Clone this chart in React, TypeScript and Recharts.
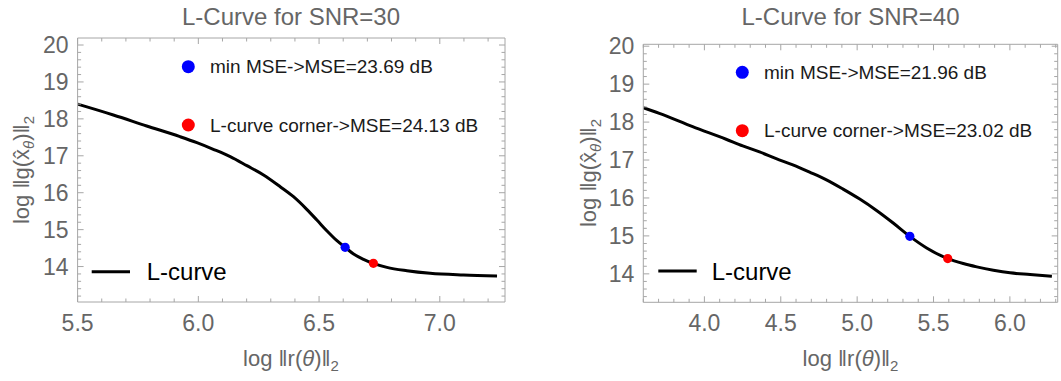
import React from "react";
import { ComposedChart, Line, Scatter, XAxis, YAxis } from "recharts";

// ---------- data ----------
const snr30X = [5.5, 5.648, 5.786, 5.924, 5.994, 6.062, 6.132, 6.201, 6.27, 6.339, 6.394, 6.449, 6.491, 6.532, 6.574, 6.608, 6.643, 6.684, 6.725, 6.781, 6.864, 6.96, 7.098, 7.237];
const snr30Y = [18.4, 18.106, 17.808, 17.518, 17.355, 17.176, 16.976, 16.732, 16.48, 16.163, 15.892, 15.55, 15.26, 14.97, 14.699, 14.52, 14.339, 14.195, 14.087, 13.978, 13.886, 13.816, 13.77, 13.743];
const snr30MinMse = { x: 6.608, y: 14.52 };
const snr30Corner = { x: 6.725, y: 14.087 };

const snr40X = [3.6, 3.705, 3.923, 4.142, 4.251, 4.361, 4.47, 4.579, 4.689, 4.799, 4.908, 5.017, 5.127, 5.236, 5.345, 5.455, 5.593, 5.695, 5.783, 5.892, 6.001, 6.132, 6.275];
const snr40Y = [18.38, 18.231, 17.879, 17.548, 17.372, 17.214, 17.038, 16.872, 16.681, 16.478, 16.234, 15.971, 15.671, 15.34, 14.988, 14.683, 14.402, 14.271, 14.184, 14.095, 14.026, 13.982, 13.937];
const snr40MinMse = { x: 5.345, y: 14.988 };
const snr40Corner = { x: 5.593, y: 14.402 };

const xMajor30 = [5.5, 6.0, 6.5, 7.0];
const xMajor40 = [4.0, 4.5, 5.0, 5.5, 6.0];
const yMajor = [14, 15, 16, 17, 18, 19, 20];

const titles = ["L-Curve for SNR=30", "L-Curve for SNR=40"];
const legendMin = ["min MSE->MSE=23.69 dB", "min MSE->MSE=21.96 dB"];
const legendCorner = ["L-curve corner->MSE=24.13 dB", "L-curve corner->MSE=23.02 dB"];
const legendCurve = "L-curve";

// ---------- helpers ----------
const FONT = "'Liberation Sans', Arial, sans-serif";
const FRAME = "#a6a6a6";
const TICKTXT = "#666666";

function makeTicks(lo: number, hi: number, step: number) {
  const out: number[] = [];
  const n = Math.round((hi - lo) / step);
  for (let i = 0; i <= n; i++) out.push(+(lo + i * step).toFixed(4));
  return out;
}
const isMajor = (v: number, majors: number[]) => majors.some((m) => Math.abs(m - v) < 1e-6);
const fmtX = (v: number) => v.toFixed(1);

function tickFactory(side: "bottom" | "top" | "left" | "right", majors: number[], label: boolean, fmt: (v: number) => string) {
  return (props: any) => {
    const { x, y, payload } = props;
    const v = payload.value;
    const major = isMajor(v, majors);
    const len = major ? 6 : 3.5;
    let line;
    if (side === "bottom") line = <line x1={x} x2={x} y1={y} y2={y - len} stroke={FRAME} strokeWidth={1} />;
    else if (side === "top") line = <line x1={x} x2={x} y1={y} y2={y + len} stroke={FRAME} strokeWidth={1} />;
    else if (side === "left") line = <line x1={x} x2={x + len} y1={y} y2={y} stroke={FRAME} strokeWidth={1} />;
    else line = <line x1={x} x2={x - len} y1={y} y2={y} stroke={FRAME} strokeWidth={1} />;
    let text = null;
    if (label && major) {
      if (side === "bottom")
        text = (
          <text x={x} y={y + 29} textAnchor="middle" fontFamily={FONT} fontSize={23} fill={TICKTXT}>
            {fmt(v)}
          </text>
        );
      else if (side === "left")
        text = (
          <text x={x - 9} y={y + 8} textAnchor="end" fontFamily={FONT} fontSize={23} fill={TICKTXT}>
            {fmt(v)}
          </text>
        );
    }
    return (
      <g>
        {line}
        {text}
      </g>
    );
  };
}

type PanelProps = {
  xs: number[];
  ys: number[];
  minMse: { x: number; y: number };
  corner: { x: number; y: number };
  xDomain: [number, number];
  yDomain: [number, number];
  xMajors: number[];
  width: number;
  margin: { top: number; right: number; bottom: number; left: number };
};

function Panel({ xs, ys, minMse, corner, xDomain, yDomain, xMajors, width, margin }: PanelProps) {
  const data = xs.map((x, i) => ({ x, y: ys[i] }));
  const xTicks = makeTicks(Math.ceil(xDomain[0] * 10 - 1e-6) / 10, Math.floor(xDomain[1] * 10 + 1e-6) / 10, 0.1);
  const yTicks = makeTicks(Math.ceil(yDomain[0] * 5 - 1e-6) / 5, Math.floor(yDomain[1] * 5 + 1e-6) / 5, 0.2);
  const dot = (color: string) => (p: any) => <circle cx={p.cx} cy={p.cy} r={4.6} fill={color} />;
  // axes take 1px each; shrink margins accordingly
  const m = { top: margin.top - 1, right: margin.right - 1, bottom: margin.bottom - 1, left: margin.left - 1 };
  return (
    <ComposedChart width={width} height={381} margin={m}>
      <XAxis xAxisId="b" type="number" dataKey="x" domain={xDomain} allowDataOverflow ticks={xTicks} interval={0} height={1} tickSize={0} tickMargin={0} orientation="bottom" stroke={FRAME} tick={tickFactory("bottom", xMajors, true, fmtX)} tickLine={false} />
      <XAxis xAxisId="t" type="number" dataKey="x" domain={xDomain} allowDataOverflow ticks={xTicks} interval={0} height={1} tickSize={0} tickMargin={0} orientation="top" stroke={FRAME} tick={tickFactory("top", xMajors, false, fmtX)} tickLine={false} />
      <YAxis yAxisId="l" type="number" dataKey="y" domain={yDomain} allowDataOverflow ticks={yTicks} interval={0} width={1} tickSize={0} tickMargin={0} orientation="left" stroke={FRAME} tick={tickFactory("left", yMajor, true, (v) => String(v))} tickLine={false} />
      <YAxis yAxisId="r" type="number" dataKey="y" domain={yDomain} allowDataOverflow ticks={yTicks} interval={0} width={1} tickSize={0} tickMargin={0} orientation="right" stroke={FRAME} tick={tickFactory("right", yMajor, false, (v) => String(v))} tickLine={false} />
      <Line xAxisId="b" yAxisId="l" data={data} dataKey="y" type="monotone" stroke="#000" strokeWidth={3} dot={false} isAnimationActive={false} />
      <Scatter xAxisId="b" yAxisId="l" data={[minMse]} dataKey="y" fill="#0000ff" shape={dot("#0000ff")} isAnimationActive={false} />
      <Scatter xAxisId="b" yAxisId="l" data={[corner]} dataKey="y" fill="#ff0000" shape={dot("#ff0000")} isAnimationActive={false} />
    </ComposedChart>
  );
}

function YLabel({ x, y }: { x: number; y: number }) {
  return (
    <text transform={`translate(${x},${y}) rotate(-90)`} textAnchor="middle" fontFamily={FONT} fontSize={22} fill={TICKTXT}>
      log ‖g(x̂<tspan dy={5} fontSize={15} fontStyle="italic">θ</tspan>
      <tspan dy={-5}>)‖</tspan>
      <tspan dy={5} fontSize={15}>2</tspan>
    </text>
  );
}

function XLabel({ x, y }: { x: number; y: number }) {
  return (
    <text x={x} y={y} textAnchor="middle" fontFamily={FONT} fontSize={22} fill={TICKTXT}>
      log ‖r(<tspan fontStyle="italic">θ</tspan>)‖<tspan dy={5} fontSize={15}>2</tspan>
    </text>
  );
}

function Overlay() {
  const panels = [
    { cx: 291, yl: 29, ylc: 170, dotX: 188.3, dot1Y: 66.7, dot2Y: 125, txtX: 210, lineX1: 91.7, lineX2: 130, lineY: 271.7, curveTxtX: 146.7 },
    { cx: 850.5, yl: 596, ylc: 173, dotX: 742.3, dot1Y: 72.3, dot2Y: 130.7, txtX: 764, lineX1: 658.3, lineX2: 696.7, lineY: 271, curveTxtX: 711.7 },
  ];
  return (
    <svg width={1061} height={381} style={{ position: "absolute", left: 0, top: 0, pointerEvents: "none" }}>
      {panels.map((p, i) => (
        <g key={i}>
          <text x={p.cx} y={25} textAnchor="middle" fontFamily={FONT} fontSize={24} fill={TICKTXT}>
            {titles[i]}
          </text>
          <circle cx={p.dotX} cy={p.dot1Y} r={6.5} fill="#0000ff" />
          <text x={p.txtX} y={p.dot1Y + 6.5} fontFamily={FONT} fontSize={19} fill="#1a1a1a">
            {legendMin[i]}
          </text>
          <circle cx={p.dotX} cy={p.dot2Y} r={6.5} fill="#ff0000" />
          <text x={p.txtX} y={p.dot2Y + 6.5} fontFamily={FONT} fontSize={19} fill="#1a1a1a">
            {legendCorner[i]}
          </text>
          <line x1={p.lineX1} x2={p.lineX2} y1={p.lineY} y2={p.lineY} stroke="#000" strokeWidth={3} />
          <text x={p.curveTxtX} y={p.lineY + 8.5} fontFamily={FONT} fontSize={24} fill="#000">
            {legendCurve}
          </text>
          <XLabel x={p.cx} y={366} />
          <YLabel x={p.yl} y={p.ylc} />
        </g>
      ))}
    </svg>
  );
}

export default function App() {
  return (
    <div style={{ position: "absolute", left: 0, top: 0, width: 1061, height: 381, background: "#fff" }}>
      <div style={{ position: "absolute", left: 0, top: 0 }}>
        <Panel xs={snr30X} ys={snr30Y} minMse={snr30MinMse} corner={snr30Corner} xDomain={[5.5, 7.27]} yDomain={[13.04, 20.19]} xMajors={xMajor30} width={530} margin={{ top: 38, right: 25, bottom: 79, left: 77.6 }} />
      </div>
      <div style={{ position: "absolute", left: 530, top: 0 }}>
        <Panel xs={snr40X} ys={snr40Y} minMse={snr40MinMse} corner={snr40Corner} xDomain={[3.6, 6.313]} yDomain={[13.25, 20.05]} xMajors={xMajor40} width={531} margin={{ top: 44.3, right: 3.3, bottom: 78.7, left: 113.3 }} />
      </div>
      <Overlay />
    </div>
  );
}
